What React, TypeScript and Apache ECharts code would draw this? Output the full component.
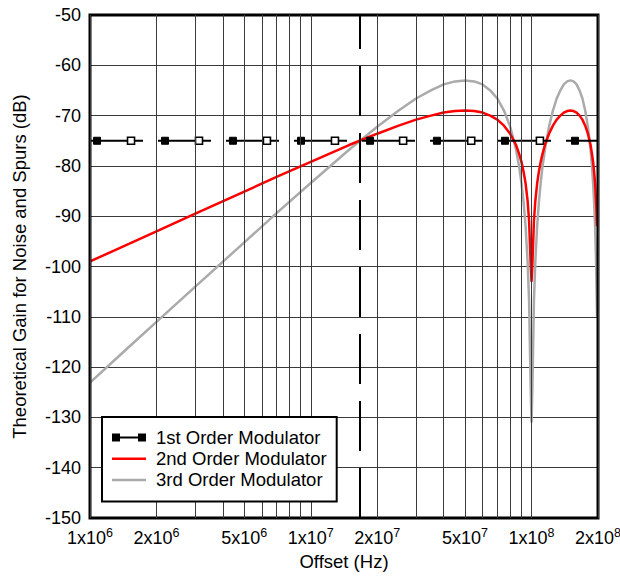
import React, { useEffect, useRef } from 'react';
import * as echarts from 'echarts';

// ---- data ----
const seriesNames = ['1st Order Modulator', '2nd Order Modulator', '3rd Order Modulator'];

const curveFreqHz = [
  1e6, 1.5e6, 2e6, 3e6, 5e6, 7e6, 1e7, 1.5e7, 2e7, 2.5e7, 3e7, 3.5e7, 4e7, 4.5e7, 5e7,
  5.5e7, 6e7, 6.5e7, 7e7, 7.5e7, 8e7, 8.5e7, 8.8e7, 9e7, 9.2e7, 9.4e7, 9.6e7, 9.75e7, 9.9e7, 1e8,
  1.01e8, 1.025e8, 1.04e8, 1.06e8, 1.08e8, 1.1e8, 1.12e8, 1.15e8, 1.2e8, 1.25e8, 1.3e8, 1.35e8,
  1.4e8, 1.45e8, 1.5e8, 1.55e8, 1.6e8, 1.65e8, 1.7e8, 1.75e8, 1.8e8, 1.85e8, 1.88e8, 1.9e8,
  1.92e8, 1.94e8, 1.96e8, 1.98e8,
];
const secondOrderDb = [
  -99.0, -95.5, -93.0, -89.5, -85.1, -82.2, -79.2, -75.8, -73.6, -72.0, -70.8, -70.0, -69.4, -69.1, -69.0,
  -69.1, -69.4, -70.0, -70.8, -72.0, -73.6, -75.8, -77.7, -79.2, -81.1, -83.5, -87.0, -91.0, -99.0, -103.0,
  -99.0, -91.0, -87.0, -83.5, -81.1, -79.2, -77.7, -75.8, -73.6, -72.0, -70.8, -70.0,
  -69.4, -69.1, -69.0, -69.1, -69.4, -70.0, -70.8, -72.0, -73.6, -75.8, -77.7, -79.2,
  -81.1, -83.5, -87.0, -92.0,
];
const thirdOrderDb = [
  -123.1, -116.0, -111.0, -104.0, -95.2, -89.4, -83.4, -76.7, -72.2, -69.0, -66.6, -65.0, -63.8, -63.2, -63.0,
  -63.2, -63.8, -65.0, -66.6, -69.0, -72.2, -76.7, -80.3, -83.4, -87.1, -92.0, -99.1, -107.0, -123.1, -131.0,
  -123.1, -107.0, -99.1, -92.0, -87.1, -83.4, -80.3, -76.7, -72.2, -69.0, -66.6, -65.0,
  -63.8, -63.2, -63.0, -63.2, -63.8, -65.0, -66.6, -69.0, -72.2, -76.7, -80.3, -83.4,
  -87.1, -92.0, -99.1, -110.0,
];

const firstOrderLevelDb = -75;
const firstOrderMarkerFreqHz = [
  1.076e6, 1.534e6, 2.187e6, 3.117e6, 4.44e6, 6.33e6, 9.03e6, 1.287e7, 1.856e7, 2.62e7,
  3.728e7, 5.33e7, 7.58e7, 1.091e8, 1.573e8,
];
const firstOrderMarkerOpen = [
  false, true, false, true, false, true, false, true, false, true, false, true, false, true, false,
];

const xMinHz = 1e6;
const xMaxHz = 2e8;
const gridFreqHz = [
  1e6, 2e6, 3e6, 4e6, 5e6, 6e6, 7e6, 8e6, 9e6,
  1e7, 2e7, 3e7, 4e7, 5e7, 6e7, 7e7, 8e7, 9e7,
  1e8, 2e8,
];
const tickFreqHz = [1e6, 2e6, 5e6, 1e7, 2e7, 5e7, 1e8, 2e8];
const tickMantissa = ['1', '2', '5', '1', '2', '5', '1', '2'];
const tickExponent = ['6', '6', '6', '7', '7', '7', '8', '8'];
const dividerFreqHz = 1.667e7;

const FONT = "'Liberation Sans', Arial, Helvetica, sans-serif";

export default function App() {
  const ref = useRef<HTMLDivElement>(null);

  useEffect(() => {
    if (!ref.current) return;
    const chart = echarts.init(ref.current, undefined, { renderer: 'svg' });

    const firstData: any[] = [
      { value: [xMinHz, firstOrderLevelDb], symbol: 'none' },
      ...firstOrderMarkerFreqHz.map((f, i) => ({
        value: [f, firstOrderLevelDb],
        symbol: 'rect',
        symbolSize: 7,
        itemStyle: firstOrderMarkerOpen[i]
          ? { color: '#ffffff', borderColor: '#000000', borderWidth: 1.6 }
          : { color: '#000000', borderColor: '#000000', borderWidth: 1 },
      })),
      { value: [xMaxHz, firstOrderLevelDb], symbol: 'none' },
    ];

    const gridLineData: any[] = gridFreqHz.map((f) => {
      const ti = tickFreqHz.indexOf(f);
      return {
        xAxis: f,
        label:
          ti >= 0
            ? { show: true, formatter: `{a|${tickMantissa[ti]}x10}{s|${tickExponent[ti]}}` }
            : { show: false },
      };
    });
    gridLineData.push({
      xAxis: dividerFreqHz,
      lineStyle: { color: '#000', width: 2, type: [50, 17] },
      label: { show: false },
    });

    const option: any = {
      animation: false,
      backgroundColor: '#ffffff',
      textStyle: { fontFamily: FONT },
      grid: {
        left: 90,
        right: 22,
        top: 15,
        bottom: 56,
        show: true,
        borderColor: '#000',
        borderWidth: 3,
        backgroundColor: 'transparent',
        z: 5,
      },
      legend: {
        orient: 'vertical',
        left: 102,
        top: 417,
        padding: [11, 10, 12, 10],
        backgroundColor: '#fff',
        borderColor: '#000',
        borderWidth: 2,
        itemWidth: 34,
        itemHeight: 8,
        itemGap: 2.2,
        textStyle: {
          fontFamily: FONT,
          fontSize: 18.5,
          color: '#000',
          lineHeight: 18,
          padding: [0, 0, 0, 5],
        },
        data: [
          { name: seriesNames[0], icon: 'path://M0,0h8v8h-8zM8,3h18v2h-18zM26,0h8v8h-8z' },
          { name: seriesNames[1], icon: 'path://M0,0h34v2.5h-34z' },
          { name: seriesNames[2], icon: 'path://M0,0h34v2.5h-34z' },
        ],
        z: 10,
      },
      xAxis: {
        type: 'log',
        logBase: 10,
        min: xMinHz,
        max: xMaxHz,
        name: 'Offset (Hz)',
        nameLocation: 'middle',
        nameGap: 34,
        nameTextStyle: { fontFamily: FONT, fontSize: 18.5, color: '#000' },
        axisLine: { show: false },
        axisTick: { show: false },
        axisLabel: { show: false },
        splitLine: { show: false },
        minorSplitLine: { show: false },
      },
      yAxis: {
        type: 'value',
        min: -150,
        max: -50,
        interval: 10,
        name: 'Theoretical Gain for Noise and Spurs (dB)',
        nameLocation: 'middle',
        nameGap: 61,
        nameTextStyle: { fontFamily: FONT, fontSize: 18.5, color: '#000' },
        axisLine: { show: false },
        axisTick: { show: false },
        axisLabel: { fontFamily: FONT, fontSize: 18, color: '#000', margin: 9 },
        splitLine: { show: true, lineStyle: { color: '#3a3a3a', width: 1 } },
      },
      series: [
        {
          name: 'grid',
          type: 'line',
          data: [],
          z: 1,
          clip: false,
          silent: true,
          markLine: {
            silent: true,
            symbol: ['none', 'none'],
            animation: false,
            lineStyle: { color: '#3a3a3a', width: 1, type: 'solid' },
            label: {
              show: false,
              position: 'start',
              distance: 10,
              color: '#000',
              rich: {
                a: { fontFamily: FONT, fontSize: 18, lineHeight: 20, color: '#000' },
                s: { fontFamily: FONT, fontSize: 12.5, lineHeight: 12, padding: [0, 0, 10, 0], color: '#000' },
              },
            },
            emphasis: { disabled: true },
            data: gridLineData,
          },
        },
        {
          name: seriesNames[0],
          type: 'line',
          z: 4,
          color: '#000',
          data: firstData,
          showSymbol: true,
          symbol: 'rect',
          symbolSize: 7,
          itemStyle: { color: '#000' },
          lineStyle: { color: '#000', width: 2, type: [53, 15] },
          emphasis: { disabled: true },
        },
        {
          name: seriesNames[1],
          type: 'line',
          z: 3,
          color: '#ff0000',
          symbol: 'none',
          data: curveFreqHz.map((f, i) => [f, secondOrderDb[i]]),
          lineStyle: { color: '#ff0000', width: 2.5 },
          emphasis: { disabled: true },
        },
        {
          name: seriesNames[2],
          type: 'line',
          z: 2,
          color: '#aaaaaa',
          symbol: 'none',
          data: curveFreqHz.map((f, i) => [f, thirdOrderDb[i]]),
          lineStyle: { color: '#aaaaaa', width: 2.5 },
          emphasis: { disabled: true },
        },
      ],
    };

    chart.setOption(option);
    return () => chart.dispose();
  }, []);

  return (
    <div
      ref={ref}
      style={{ position: 'fixed', left: 0, top: 0, width: 620, height: 576, background: '#fff' }}
    />
  );
}
